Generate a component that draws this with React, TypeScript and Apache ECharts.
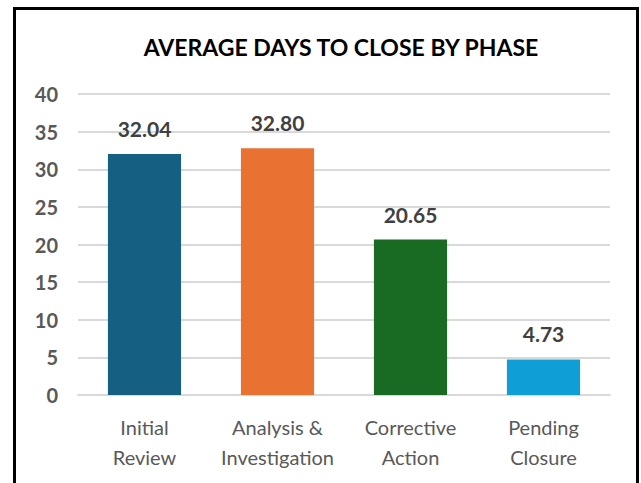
import React, { useEffect, useRef } from "react";
import * as echarts from "echarts";

const categories = ["Initial\nReview", "Analysis &\nInvestigation", "Corrective\nAction", "Pending\nClosure"];
const values = [32.04, 32.8, 20.65, 4.73];
const barColors = ["#156082", "#E97132", "#196B24", "#0F9ED5"];
const titleText = "AVERAGE DAYS TO CLOSE BY PHASE";
const yMin = 0;
const yMax = 40;
const yStep = 5;

export default function App() {
  const ref = useRef<HTMLDivElement>(null);
  useEffect(() => {
    if (!ref.current) return;
    const chart = echarts.init(ref.current, null, { renderer: "svg" });
    const font = "Lato, 'Open Sans', sans-serif";
    chart.setOption({
      animation: false,
      backgroundColor: "#ffffff",
      title: {
        text: titleText,
        left: 336,
        textAlign: "center",
        top: 30,
        textStyle: { fontFamily: font, fontSize: 23, fontWeight: "bold", color: "#000000" },
      },
      grid: { left: 78, right: 31, top: 94, bottom: 88, containLabel: false },
      xAxis: {
        type: "category",
        data: categories,
        axisLine: { show: true, lineStyle: { color: "#d9d9d9", width: 2 } },
        axisTick: { show: false },
        axisLabel: {
          interval: 0,
          hideOverlap: false,
          fontFamily: font,
          fontSize: 20,
          color: "#595959",
          lineHeight: 30,
          margin: 17,
        },
      },
      yAxis: {
        type: "value",
        min: yMin,
        max: yMax,
        interval: yStep,
        axisLine: { show: false },
        axisTick: { show: false },
        splitLine: { lineStyle: { color: "#d9d9d9", width: 2 } },
        axisLabel: {
          fontFamily: font,
          fontSize: 20,
          fontWeight: "bold",
          color: "#595959",
          margin: 20,
        },
      },
      series: [
        {
          type: "bar",
          barWidth: "55%",
          data: values.map((v, i) => ({ value: v, itemStyle: { color: barColors[i] } })),
          label: {
            show: true,
            position: "top",
            distance: 15,
            formatter: (p: any) => p.value.toFixed(2),
            fontFamily: font,
            fontSize: 21,
            fontWeight: "bold",
            color: "#404040",
          },
        },
      ],
      graphic: [
        {
          type: "rect",
          shape: { x: 14.5, y: 8.5, width: 623, height: 500 },
          style: { fill: "none", stroke: "#000000", lineWidth: 3 },
          z: 100,
        },
      ],
    });
    return () => chart.dispose();
  }, []);
  return (
    <div
      ref={ref}
      style={{ position: "fixed", left: 0, top: 0, width: 641, height: 483 }}
    />
  );
}
